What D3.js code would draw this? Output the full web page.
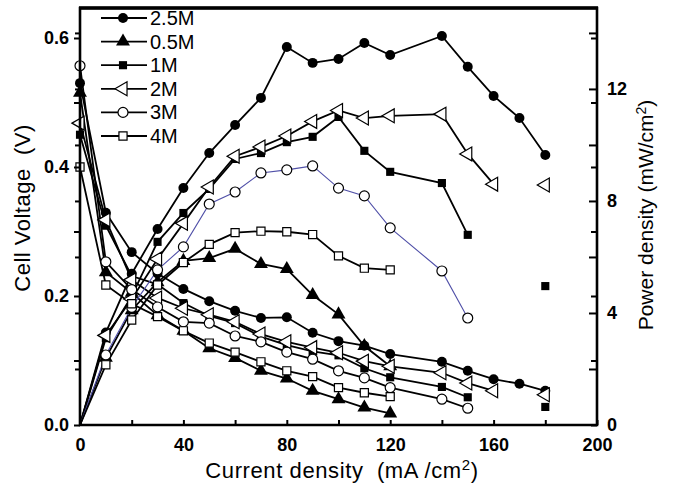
<!DOCTYPE html>
<html>
<head>
<meta charset="utf-8">
<script src="https://cdnjs.cloudflare.com/ajax/libs/d3/7.8.5/d3.min.js"></script>
<style>
  body { margin: 0; background: #fff; }
  svg text { font-family: "Liberation Sans", Arial, sans-serif; white-space: pre; }
</style>
</head>
<body>
<script>
var w = 675;
var h = 492;

// current density (mA/cm2)
var current = [0, 10, 20, 30, 40, 50, 60, 70, 80, 90, 100, 110, 120, 140, 150, 160, 170, 180];

// cell voltage (V)
var v25 = [0.53, 0.329, 0.268, 0.235, 0.211, 0.192, 0.177, 0.166, 0.167, 0.143, 0.130, 0.123, 0.110, 0.098, 0.084, 0.071, 0.064, 0.053];
var v05 = [0.515, 0.237, 0.205, 0.170, 0.146, 0.119, 0.104, 0.084, 0.072, 0.053, 0.040, 0.027, 0.018, null, null, null, null, null];
var v1 = [0.45, 0.309, 0.231, 0.218, 0.189, 0.169, 0.158, 0.137, 0.124, 0.114, 0.108, 0.088, 0.074, 0.059, 0.043, null, null, 0.028];
var v2 = [0.468, 0.318, 0.225, 0.197, 0.181, 0.171, 0.160, 0.141, 0.129, 0.120, 0.112, 0.099, 0.091, 0.081, 0.065, 0.053, null, 0.047];
var v3 = [0.557, 0.253, 0.210, 0.183, 0.160, 0.158, 0.138, 0.129, 0.113, 0.102, 0.084, 0.073, 0.058, 0.040, 0.026, null, null, null];
var v4 = [0.40, 0.217, 0.188, 0.168, 0.146, 0.127, 0.113, 0.098, 0.084, 0.075, 0.058, 0.050, 0.044, null, null, null, null, null];

// power density (mW/cm2)
var p25 = [0, 3.3, 5.4, 7.0, 8.46, 9.71, 10.71, 11.68, 13.5, 12.93, 13.07, 13.64, 13.21, 13.89, 12.79, 11.75, 10.96, 9.64];
var p05 = [0, 2.4, 4.1, 5.1, 5.86, 5.96, 6.29, 5.75, 5.57, 4.64, 3.95, 2.82, 2.1, null, null, null, null, null];
var p1 = [0, 3.1, 4.6, 6.54, 7.57, 8.43, 9.5, 9.71, 10.1, 10.29, 11.0, 9.79, 9.04, 8.64, 6.79, null, null, 4.96];
var p2 = [0, 3.2, 4.5, 5.93, 7.2, 8.5, 9.6, 9.93, 10.32, 10.84, 11.23, 10.96, 11.04, 11.1, 9.68, 8.6, null, 8.57];
var p3 = [0, 2.5, 4.2, 5.54, 6.36, 7.89, 8.32, 9.0, 9.11, 9.25, 8.46, 8.18, 7.04, 5.5, 3.82, null, null, null];
var p4 = [0, 2.15, 3.75, 5.0, 5.8, 6.45, 6.87, 6.92, 6.9, 6.8, 6.04, 5.6, 5.54, null, null, null, null, null];

var names = ["2.5M", "0.5M", "1M", "2M", "3M", "4M"];
var xTicks = [0, 40, 80, 120, 160, 200];
var vTicks = [0, 0.2, 0.4, 0.6];
var pTicks = [0, 4, 8, 12];

var padLeft = 80, padRight = 597, padTop = 8, padBottom = 425;

var series = [
    { name: names[0], v: v25, p: p25, shape: "circle", filled: true, pcolor: "#000" },
    { name: names[1], v: v05, p: p05, shape: "triangle", filled: true, pcolor: "#000" },
    { name: names[2], v: v1, p: p1, shape: "square", filled: true, pcolor: "#000" },
    { name: names[3], v: v2, p: p2, shape: "ltriangle", filled: false, pcolor: "#000" },
    { name: names[4], v: v3, p: p3, shape: "circle", filled: false, pcolor: "#5050a8" },
    { name: names[5], v: v4, p: p4, shape: "square", filled: false, pcolor: "#000" }
];

var svg = d3.select("body")
    .append("svg")
    .attr("width", w)
    .attr("height", h);

var xScale = d3.scaleLinear().domain([0, 200]).range([padLeft, padRight]);
var yV = d3.scaleLinear().domain([0, 0.6465]).range([padBottom, padTop]);
var yP = d3.scaleLinear().domain([0, 14.89]).range([padBottom, padTop]);

function symbolPath(shape) {
    if (shape == "circle") return d3.symbol().type(d3.symbolCircle).size(78)();
    if (shape == "square") return d3.symbol().type(d3.symbolSquare).size(66)();
    return d3.symbol().type(d3.symbolTriangle).size(84)();
}

function drawMarker(g, shape, filled, px, py) {
    var rot = shape == "ltriangle" ? -90 : 0;
    g.append("path")
        .attr("d", symbolPath(shape))
        .attr("transform", "translate(" + px + "," + py + ") rotate(" + rot + ")")
        .attr("fill", filled ? "#000" : "#fff")
        .attr("stroke", filled ? "none" : "#000")
        .attr("stroke-width", 1.2);
}

// lines
var plot = svg.append("g");
series.forEach(function (s) {
    var vData = current.map((c, i) => [c, s.v[i]]);
    var pData = current.map((c, i) => [c, s.p[i]]);
    var vLine = d3.line().defined(d => d[1] != null).x(d => xScale(d[0])).y(d => yV(d[1]));
    var pLine = d3.line().defined(d => d[1] != null).x(d => xScale(d[0])).y(d => yP(d[1]));
    plot.append("path").attr("d", vLine(vData)).attr("fill", "none")
        .attr("stroke", "#000").attr("stroke-width", 1.8);
    plot.append("path").attr("d", pLine(pData)).attr("fill", "none")
        .attr("stroke", s.pcolor).attr("stroke-width", s.pcolor == "#000" ? 1.8 : 1.1);
});
series.forEach(function (s) {
    current.forEach(function (c, i) {
        if (s.v[i] != null && c > 0) drawMarker(plot, s.shape, s.filled, xScale(c), yV(s.v[i]));
        if (s.p[i] != null && c > 0) drawMarker(plot, s.shape, s.filled, xScale(c), yP(s.p[i]));
    });
    // points at zero current
    drawMarker(plot, s.shape, s.filled, xScale(0), yV(s.v[0]));
});

// axes
var vAll = d3.range(0, 0.61, 0.1);
var pAll = d3.range(2, 15, 2);

function tickSet(g, scale, values, size) {
    g.call(d3.axisLeft(scale).tickValues(values).tickSize(size).tickFormat(""))
        .call(a => a.select(".domain").remove())
        .selectAll("line").attr("stroke-width", 2);
}

tickSet(svg.append("g").attr("transform", "translate(" + padLeft + ",0)"), yV, vAll, 6);
tickSet(svg.append("g").attr("transform", "translate(" + padLeft + ",0)"), yP, pAll, 5);
tickSet(svg.append("g").attr("transform", "translate(" + padRight + ",0)"), yV, vAll, 6);
tickSet(svg.append("g").attr("transform", "translate(" + padRight + ",0)"), yP, pAll, 8);

// left labels
svg.append("g")
    .attr("transform", "translate(" + padLeft + ",0)")
    .call(d3.axisLeft(yV).tickValues(vTicks).tickSize(0).tickPadding(11).tickFormat(d3.format(".1f")))
    .call(a => a.select(".domain").remove())
    .selectAll("text").attr("font-size", 18).attr("font-weight", "bold")
    .attr("font-family", "Liberation Sans, Arial, sans-serif");

// right labels
svg.append("g")
    .attr("transform", "translate(" + padRight + ",0)")
    .call(d3.axisRight(yP).tickValues(pTicks).tickSize(0).tickPadding(10).tickFormat(d3.format("d")))
    .call(a => a.select(".domain").remove())
    .selectAll("text").attr("font-size", 18).attr("font-weight", "bold")
    .attr("font-family", "Liberation Sans, Arial, sans-serif");

// bottom axis
svg.append("g")
    .attr("transform", "translate(0," + padBottom + ")")
    .call(d3.axisBottom(xScale).tickValues(d3.range(0, 201, 20)).tickSize(-5).tickPadding(13)
        .tickFormat(d => xTicks.indexOf(d) >= 0 ? d : ""))
    .call(a => a.select(".domain").remove())
    .call(a => a.selectAll("line").attr("stroke-width", 2))
    .selectAll("text").attr("font-size", 18).attr("font-weight", "bold")
    .attr("font-family", "Liberation Sans, Arial, sans-serif");

// frame
svg.append("path")
    .attr("d", "M" + padLeft + "," + padBottom + "V" + padTop + "H" + padRight + "V" + padBottom + "Z")
    .attr("fill", "none").attr("stroke", "#000").attr("stroke-width", 2.6);
svg.append("line")
    .attr("x1", padLeft - 1).attr("x2", padRight + 1).attr("y1", padTop).attr("y2", padTop)
    .attr("stroke", "#000").attr("stroke-width", 3.5);

// legend
var legend = svg.append("g");
series.forEach(function (s, i) {
    var ly = 18 + i * 23.6;
    legend.append("line").attr("x1", 101).attr("x2", 147).attr("y1", ly).attr("y2", ly)
        .attr("stroke", "#000").attr("stroke-width", 1.8);
    drawMarker(legend, s.shape, s.filled, 123, ly);
    legend.append("text").attr("x", 150).attr("y", ly + 7)
        .attr("font-size", 20).text(s.name);
});

// titles
svg.append("text")
    .attr("transform", "translate(30,208) rotate(-90)")
    .attr("text-anchor", "middle").attr("font-size", 22).attr("letter-spacing", 0.5)
    .text("Cell Voltage  (V)");

var xt = svg.append("text")
    .attr("x", 342).attr("y", 478)
    .attr("text-anchor", "middle").attr("font-size", 22).attr("letter-spacing", 0.6);
xt.append("tspan").text("Current density  (mA /cm");
xt.append("tspan").attr("font-size", 15).attr("dy", -8).text("2");
xt.append("tspan").attr("dy", 8).text(")");

var yt = svg.append("text")
    .attr("transform", "translate(653,215) rotate(-90)")
    .attr("text-anchor", "middle").attr("font-size", 21);
yt.append("tspan").text("Power density (mW/cm");
yt.append("tspan").attr("font-size", 14).attr("dy", -7).text("2");
yt.append("tspan").attr("dy", 7).text(")");
</script>
</body>
</html>
